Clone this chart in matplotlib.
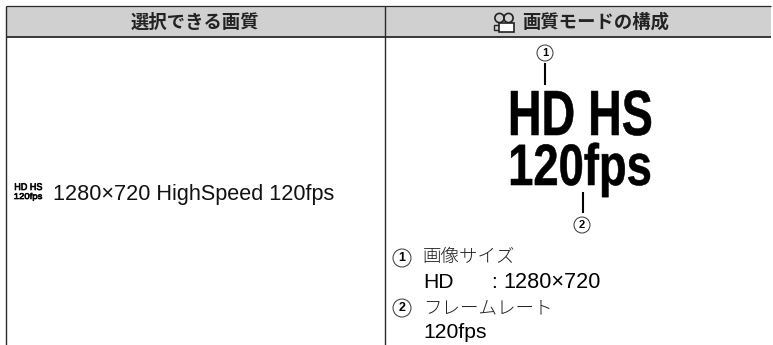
#!/usr/bin/env python3
"""Camera manual table: selectable quality and quality mode layout."""

import matplotlib
matplotlib.use("Agg")
import matplotlib.pyplot as plt
from matplotlib.patches import Circle, PathPatch, Polygon, Rectangle
from matplotlib.textpath import TextPath
from matplotlib.font_manager import FontProperties
from matplotlib.transforms import Affine2D

W, H = 773, 345
JP = ["Noto Sans CJK JP", "DejaVu Sans"]
LATIN = ["Liberation Sans", "Noto Sans CJK JP"]

HEADERS = ["選択できる画質", "画質モードの構成"]
QUALITY = "1280×720 HighSpeed 120fps"
LOGO = ["HD HS", "120fps"]
ITEMS = ["画像サイズ", "フレームレート"]
SIZE_LABEL = "HD"
SIZE_COLON = ":"
SIZE_VALUE = "1280×720"
RATE_VALUE = "120fps"
MARKS = ["1", "2"]

fig = plt.figure(figsize=(W / 100, H / 100), dpi=100)
ax = fig.add_axes([0, 0, 1, 1])
ax.set_xlim(0, W)
ax.set_ylim(H, 0)
ax.axis("off")


def squeezed(s, x0, x1, base, top, weight="bold", lw=0.4):
    # logo text is condensed, so stretch the glyph outline into its box
    fp = FontProperties(family="Liberation Sans", weight=weight)
    tp = TextPath((0, 0), s, size=10, prop=fp)
    bb = tp.get_extents()
    tr = (Affine2D().translate(-bb.x0, 0)
          .scale((x1 - x0) / bb.width, -(base - top) / 7.2)
          .translate(x0, base))
    ax.add_patch(PathPatch(tr.transform_path(tp), fc="black", ec="black", lw=lw, zorder=3))


def circled(x, y, label, r=8, fs=8):
    ax.add_patch(Circle((x, y), r, fc="white", ec="#333333", lw=0.7, zorder=3))
    ax.text(x, y + 0.3, label, family=LATIN, fontsize=fs, fontweight="bold",
            ha="center", va="center", zorder=4)


def movie_icon(x, y):
    # two reels, camera body and lens of the movie mode icon
    for dx in (6.5, 15.5):
        ax.add_patch(Circle((x + dx, y + 5), 4.6, fc="none", ec="#222222", lw=1.2))
    ax.add_patch(Rectangle((x + 6, y + 10), 14.5, 8.5, fc="white", ec="#222222", lw=1.2, zorder=3))
    ax.add_patch(Polygon([(x + 6, y + 12), (x + 1, y + 12), (x + 1, y + 17), (x + 6, y + 17)],
                         closed=False, fc="none", ec="#222222", lw=1.0))


# header band and rules
ax.add_patch(Rectangle((6, 6), 765, 30.5, fc="#d0d0d0", ec="none"))
rule = dict(color="#2a2a2a", solid_capstyle="butt")
ax.plot([5.5, 771], [6, 6], lw=0.9, **rule)
ax.plot([5.5, 771], [36.8, 36.8], lw=1.3, **rule)
for xv in (6.3, 384.8):
    ax.plot([xv, xv], [6, H], lw=1.0, **rule)

ax.text(195, 22, HEADERS[0], family=JP, fontsize=13.2, fontweight="bold",
        ha="center", va="center", color="#222222")
movie_icon(493, 13)
ax.text(595.5, 22, HEADERS[1], family=JP, fontsize=13.2, fontweight="bold",
        ha="center", va="center", color="#222222")

# left column row
squeezed(LOGO[0], 15, 42, 190, 183, weight="regular", lw=0.5)
squeezed(LOGO[1], 14.5, 42, 199, 193, weight="regular", lw=0.5)
ax.text(53, 194.5, QUALITY, family=LATIN, fontsize=15.6, ha="left", va="center",
        color="#111111")

# big logo
squeezed(LOGO[0], 511, 651, 135, 89)
squeezed(LOGO[1], 511, 650, 185, 143)

# leader lines with their markers
ax.plot([545, 545], [63, 85], color="black", lw=1.5, solid_capstyle="butt")
ax.plot([582.5, 582.5], [192, 213], color="black", lw=1.5, solid_capstyle="butt")
circled(545, 53, MARKS[0])
circled(582, 225, MARKS[1])

# notes below
circled(402, 258, MARKS[0], r=9, fs=9)
circled(402, 308, MARKS[1], r=9, fs=9)
ax.text(423, 257, ITEMS[0], family=JP, fontsize=13.3, fontweight="light",
        ha="left", va="center", color="#222222")
ax.text(423, 283, SIZE_LABEL, family=LATIN, fontsize=15.2, ha="left", va="center")
ax.text(491, 283, SIZE_COLON, family=LATIN, fontsize=15.2, ha="left", va="center")
ax.text(503, 283, SIZE_VALUE, family=LATIN, fontsize=15.6, ha="left", va="center")
ax.text(423, 308, ITEMS[1], family=JP, fontsize=13.3, fontweight="light",
        ha="left", va="center", color="#222222")
ax.text(423, 333, RATE_VALUE, family=LATIN, fontsize=15.2, ha="left", va="center")

fig.savefig("out.png", dpi=100)
